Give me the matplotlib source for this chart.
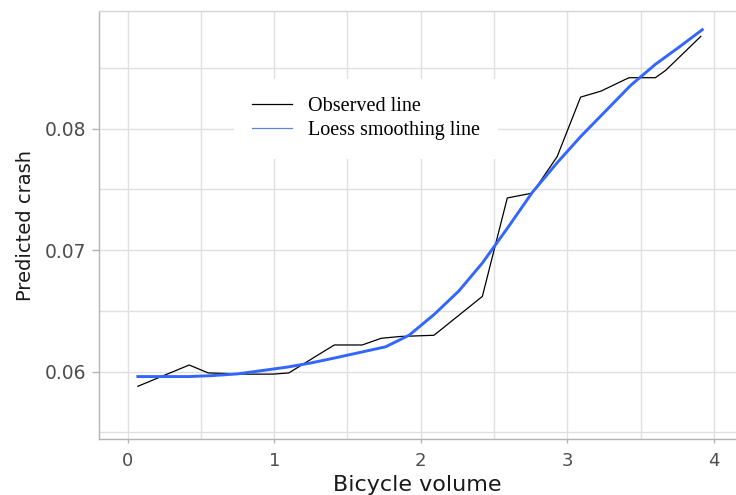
import matplotlib
matplotlib.use("Agg")
import matplotlib.pyplot as plt
from matplotlib.lines import Line2D
from matplotlib.ticker import MultipleLocator

# observed predicted crash (black line)
obs_x = [0.07, 0.42, 0.55, 0.82, 0.99, 1.10, 1.41, 1.60, 1.73, 1.86, 2.09,
         2.42, 2.59, 2.76, 2.93, 3.09, 3.23, 3.42, 3.60, 3.67, 3.91]
obs_y = [0.0588, 0.06055, 0.0599, 0.0598, 0.0598, 0.0599, 0.0622, 0.0622,
         0.06275, 0.0629, 0.0630, 0.0662, 0.0743, 0.0747, 0.0777, 0.0826,
         0.0831, 0.0842, 0.0842, 0.0848, 0.0876]

# loess smoothing line (blue)
loess_x = [0.07, 0.25, 0.42, 0.58, 0.75, 0.92, 1.09, 1.25, 1.42, 1.59, 1.76,
           1.92, 2.09, 2.26, 2.42, 2.59, 2.76, 2.93, 3.09, 3.26, 3.43, 3.60,
           3.76, 3.92]
loess_y = [0.0596, 0.0596, 0.0596, 0.05968, 0.05982, 0.0601, 0.06038,
           0.06072, 0.06115, 0.0616, 0.06205, 0.0630, 0.0647, 0.06665,
           0.06895, 0.0718, 0.07475, 0.0772, 0.07935, 0.08145, 0.08355,
           0.0853, 0.0867, 0.08815]

labels = ["Observed line", "Loess smoothing line"]

fig = plt.figure(figsize=(7.36, 4.95), dpi=100)
ax = fig.add_axes([0.1345, 0.1131, 0.8655, 0.8647])

ax.plot(obs_x, obs_y, color="black", lw=0.9, zorder=3)
ax.plot(loess_x, loess_y, color="#3366FF", lw=2.1, zorder=4)

ax.set_xlim(-0.195, 4.15)
ax.set_ylim(0.05446, 0.08969)

ax.xaxis.set_major_locator(MultipleLocator(1))
ax.xaxis.set_minor_locator(MultipleLocator(0.5))
ax.yaxis.set_minor_locator(MultipleLocator(0.005))
ax.set_yticks([0.06, 0.07, 0.08])
ax.set_yticklabels(["0.06", "0.07", "0.08"])

ax.grid(True, which="both", color="#e0e0e0", lw=1.0, zorder=0)
ax.set_axisbelow(True)

ax.spines["right"].set_visible(False)
for s in ["left", "bottom", "top"]:
    ax.spines[s].set_color("#b3b3b3")
    ax.spines[s].set_linewidth(1.0)
ax.spines["top"].set_color("#d5d5d5")

ax.tick_params(which="minor", length=0)
ax.tick_params(axis="x", which="major", length=3, width=1.0, color="#b3b3b3",
               labelsize=13, labelcolor="#4d4d4d", pad=6)
ax.tick_params(axis="y", which="major", length=5, width=1.0, color="#b3b3b3",
               labelsize=13.5, labelcolor="#4d4d4d", pad=4)

ax.set_xlabel("Bicycle volume", fontsize=16, color="#1a1a1a")
ax.set_ylabel("Predicted crash", fontsize=14, color="#1a1a1a")
ax.xaxis.set_label_coords(0.5, -0.083)
ax.yaxis.set_label_coords(-0.1, 0.5)

handles = [Line2D([], [], color="black", lw=0.9),
           Line2D([], [], color="#5c86dc", lw=0.9)]
leg = ax.legend(handles, labels, loc="upper left",
                bbox_to_anchor=(0.212, 0.841),
                prop={"family": "Liberation Serif", "size": 14.5},
                frameon=True, facecolor="white", edgecolor="none",
                framealpha=1, fancybox=False, borderpad=0.9,
                handlelength=2.0, handletextpad=0.75, labelspacing=0.25,
                borderaxespad=0)
leg.set_zorder(5)

fig.savefig("out.png", dpi=100)
